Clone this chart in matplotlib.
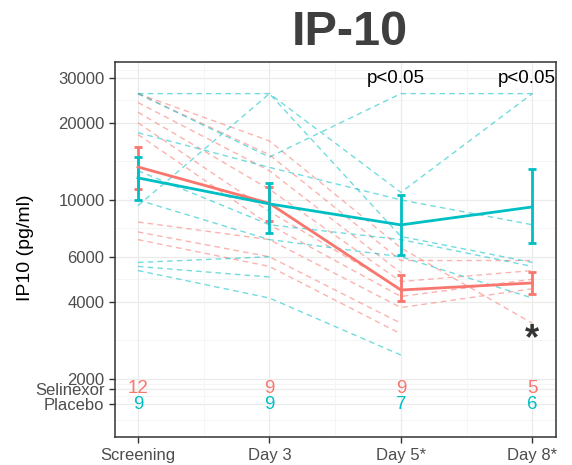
import numpy as np
import matplotlib
matplotlib.use("Agg")
import matplotlib.pyplot as plt
from matplotlib.ticker import NullLocator

plt.rcParams["font.family"] = ["Liberation Sans", "DejaVu Sans"]

RED = "#F8766D"
TEAL = "#00BFC4"
NAN = np.nan

days = ["Screening", "Day 3", "Day 5*", "Day 8*"]

# individual patients, one value per visit (NaN = missing)
selinexor_pts = [
    [26000, 17000, 6500, 3300],
    [26000, 15000, 5800, 5800],
    [24000, 13000, 5200, NAN],
    [22000, 11000, 4800, 5300],
    [20000, 9000, 4500, NAN],
    [18000, 8000, 4200, 4900],
    [16000, NAN, NAN, NAN],
    [8200, 7000, 3800, 4500],
    [7500, 6000, 3300, NAN],
    [7000, 5500, 3000, NAN],
    [6500, NAN, NAN, NAN],
    [6000, NAN, NAN, NAN],
]
placebo_pts = [
    [26000, 26000, 10700, 26000],
    [26000, 14700, 26000, 26000],
    [18300, 13400, 10000, 8000],
    [9500, 26000, 7200, 5700],
    [13000, 8000, 7000, 5500],
    [10000, 7000, 6000, 4140],
    [5700, 6000, NAN, NAN],
    [5500, 5000, NAN, NAN],
    [5300, 4140, 2480, NAN],
]

# group means with error bars
selinexor_mean = [13450, 9700, 4450, 4740]
selinexor_lo = [11000, 8300, 4030, 4295]
selinexor_hi = [16100, 11200, 5090, 5240]
placebo_mean = [12190, 9650, 7990, 9390]
placebo_lo = [10000, 7430, 6100, 6800]
placebo_hi = [14730, 11650, 10470, 13210]

selinexor_n = ["12", "9", "9", "5"]
placebo_n = ["9", "9", "7", "6"]
p_labels = ["", "", "p<0.05", "p<0.05"]

y_ticks = [1600, 1830, 2000, 4000, 6000, 10000, 20000, 30000]
y_ticklabels = ["Placebo", "Selinexor", "2000", "4000", "6000", "10000", "20000", "30000"]

x = np.arange(1, len(days) + 1)

fig = plt.figure(figsize=(5.72, 4.65), dpi=100)
ax = fig.add_axes([0.201, 0.060, 0.771, 0.807])
ax.set_yscale("log")
ax.set_xlim(0.825, 4.18)
ax.set_ylim(1186, 34600)

# grid
for t in y_ticks:
    ax.axhline(t, color="#EBEBEB", lw=0.9, zorder=0)
edges = [1186] + y_ticks + [34600]
for a, b in zip(edges[:-1], edges[1:]):
    ax.axhline(np.sqrt(a * b), color="#F2F2F2", lw=0.5, zorder=0)
for xi in x:
    ax.axvline(xi, color="#EBEBEB", lw=0.9, zorder=0)
for xm in [1.5, 2.5, 3.5]:
    ax.axvline(xm, color="#F2F2F2", lw=0.5, zorder=0)

for row in selinexor_pts:
    ax.plot(x, row, color=RED, lw=1.0, ls=(0, (4, 3)), alpha=0.55, zorder=2)
for row in placebo_pts:
    ax.plot(x, row, color=TEAL, lw=1.0, ls=(0, (4, 3)), alpha=0.55, zorder=2)

for mean, lo, hi, col in [(selinexor_mean, selinexor_lo, selinexor_hi, RED),
                          (placebo_mean, placebo_lo, placebo_hi, TEAL)]:
    mean = np.array(mean)
    yerr = [mean - np.array(lo), np.array(hi) - mean]
    ax.errorbar(x, mean, yerr=yerr, color=col, lw=2.0, elinewidth=2.0,
                capsize=3, capthick=2.0, zorder=4)

for xi, s, p in zip(x, selinexor_n, placebo_n):
    ax.text(xi, 1840, s, color=RED, fontsize=13.5, ha="center", va="center", zorder=5)
    ax.text(xi, 1585, p, color=TEAL, fontsize=13.5, ha="center", va="center", zorder=5)

for xi, lab in zip(x, p_labels):
    if lab:
        ax.text(xi - 0.04, 29900, lab, color="black", fontsize=13.5, ha="center", va="center")

ax.text(x[-1], 2850, "*", color="#333333", fontsize=26, fontweight="bold",
        ha="center", va="center")

ax.set_xticks(x)
ax.set_xticklabels(days)
ax.set_yticks(y_ticks)
ax.set_yticklabels(y_ticklabels)
ax.yaxis.set_minor_locator(NullLocator())
ax.tick_params(axis="both", colors="#333333", labelcolor="#4D4D4D",
               labelsize=12, length=4, width=1)
for sp in ax.spines.values():
    sp.set_color("#333333")
    sp.set_linewidth(1.1)

fig.text(25 / 572, 1 - 248 / 465, "IP10 (pg/ml)", fontsize=14, color="black",
         rotation=90, ha="center", va="center")

fig.text(0.612, 0.93, "IP-10", fontsize=35, fontweight="bold", color="#3F3F3F",
         ha="center", va="center")

fig.savefig("out.png", dpi=100)
